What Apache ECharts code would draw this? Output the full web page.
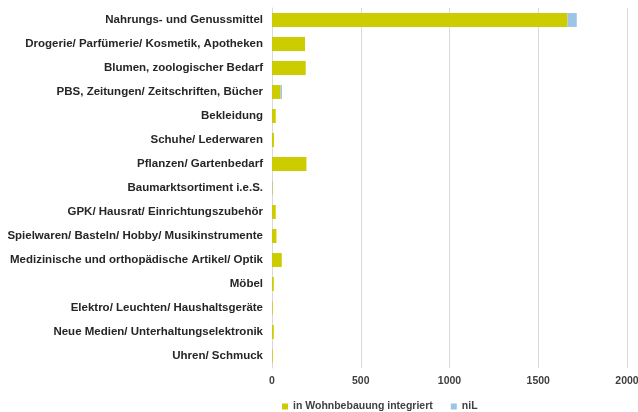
<!DOCTYPE html>
<html><head><meta charset="utf-8">
<script src="https://cdn.jsdelivr.net/npm/echarts@6/dist/echarts.min.js"></script>
<style>html,body{margin:0;padding:0;background:#fff}#c{width:638px;height:412px}</style>
</head><body><div id="c"></div>
<script>
var categories = [
  "Nahrungs- und Genussmittel",
  "Drogerie/ Parfümerie/ Kosmetik, Apotheken",
  "Blumen, zoologischer Bedarf",
  "PBS, Zeitungen/ Zeitschriften, Bücher",
  "Bekleidung",
  "Schuhe/ Lederwaren",
  "Pflanzen/ Gartenbedarf",
  "Baumarktsortiment i.e.S.",
  "GPK/ Hausrat/ Einrichtungszubehör",
  "Spielwaren/ Basteln/ Hobby/ Musikinstrumente",
  "Medizinische und orthopädische Artikel/ Optik",
  "Möbel",
  "Elektro/ Leuchten/ Haushaltsgeräte",
  "Neue Medien/ Unterhaltungselektronik",
  "Uhren/ Schmuck"
];
var integriert = [1665, 186, 190, 48, 21, 11, 194, 3, 21, 25, 55, 10, 4, 10, 4];
var nil =        [52,   0,   0,   8,  0,  0,  0,   2, 0,  0,  0,  0,  0, 0,  0];
var xTicks = [0, 500, 1000, 1500, 2000];
var seriesNames = ["in Wohnbebauung integriert", "niL"];

var chart = echarts.init(document.getElementById('c'));
chart.setOption({
  animation: false,
  textStyle: {fontFamily: "'Liberation Sans', Arial, sans-serif"},
  grid: {left: 272, right: 11, top: 8, bottom: 44, containLabel: false, outerBoundsMode: 'none'},
  legend: {
    data: seriesNames, left: 277, top: 396, itemWidth: 6, itemHeight: 6, itemGap: 18,
    icon: 'rect',
    textStyle: {fontSize: 10.5, fontWeight: 'bold', color: '#404040'}
  },
  xAxis: {
    type: 'value', min: xTicks[0], max: xTicks[xTicks.length-1], interval: 500,
    axisLine: {show: false}, axisTick: {show: false},
    splitLine: {show: true, lineStyle: {color: '#d9d9d9', width: 1}},
    axisLabel: {margin: 8, fontSize: 10.5, fontWeight: 'bold', color: '#404040',
      formatter: function (v) { return String(v); }}
  },
  yAxis: {
    type: 'category', data: categories, inverse: true,
    axisLine: {show: true, lineStyle: {color: '#d9d9d9'}}, axisTick: {show: false},
    axisLabel: {margin: 9, fontSize: 11.5, fontWeight: 'bold', color: '#262626'}
  },
  series: [
    {name: seriesNames[0], type: 'bar', stack: 's', data: integriert, barWidth: '58%', itemStyle: {color: '#cccc00'}},
    {name: seriesNames[1], type: 'bar', stack: 's', data: nil, barWidth: '58%', itemStyle: {color: '#9dc3e6'}}
  ]
});
</script></body></html>
